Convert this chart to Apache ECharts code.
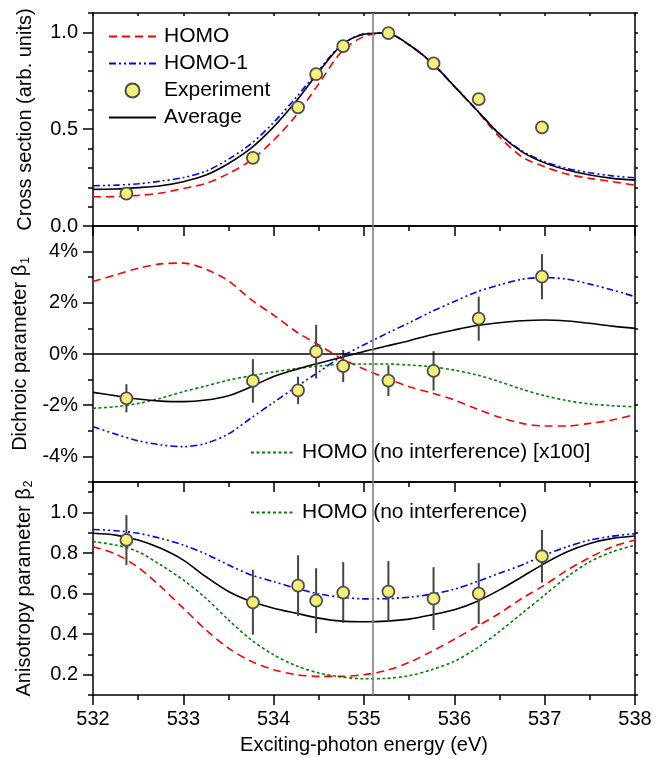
<!DOCTYPE html>
<html>
<head>
<meta charset="utf-8">
<script src="https://cdn.jsdelivr.net/npm/echarts@6/dist/echarts.min.js"></script>
<style>html,body{margin:0;padding:0;background:#fff}#chart{width:666px;height:758px}</style>
</head>
<body>
<div id="chart"></div>
<script>
// ---------- data ----------
const energy = [532,532.25,532.5,532.75,533,533.25,533.5,533.75,534,534.25,534.5,534.75,535,535.25,535.5,535.75,536,536.25,536.5,536.75,537,537.25,537.5,537.75,538];

// Cross section (arb. units)
const csHomo  = [0.151,0.152,0.158,0.170,0.194,0.220,0.271,0.340,0.443,0.572,0.735,0.899,0.979,0.995,0.934,0.842,0.720,0.595,0.460,0.357,0.306,0.268,0.246,0.229,0.211];
const csHomo1 = [0.208,0.211,0.218,0.232,0.250,0.283,0.345,0.425,0.535,0.665,0.805,0.935,0.992,0.997,0.936,0.844,0.722,0.598,0.476,0.388,0.332,0.297,0.275,0.259,0.249];
const csAvg   = [0.189,0.191,0.198,0.208,0.229,0.263,0.323,0.402,0.512,0.645,0.796,0.933,0.990,0.997,0.936,0.844,0.722,0.598,0.474,0.383,0.326,0.289,0.263,0.246,0.237];

// Dichroic parameter beta1 (%)
const b1Homo  = [2.83,3.09,3.35,3.52,3.55,3.31,2.86,2.12,1.52,0.87,0.35,-0.17,-0.59,-0.95,-1.28,-1.52,-1.80,-2.15,-2.47,-2.71,-2.81,-2.81,-2.71,-2.58,-2.36];
const b1Homo1 = [-2.84,-3.13,-3.39,-3.55,-3.62,-3.49,-3.12,-2.50,-1.89,-1.28,-0.70,-0.10,0.36,0.80,1.22,1.66,2.05,2.43,2.70,2.92,2.99,2.92,2.73,2.50,2.24];
const b1Avg   = [-1.50,-1.63,-1.76,-1.84,-1.86,-1.80,-1.63,-1.28,-0.88,-0.60,-0.36,-0.13,0.10,0.31,0.52,0.75,0.94,1.11,1.22,1.30,1.33,1.29,1.20,1.09,1.00];
const b1NoInt = [-2.12,-2.06,-1.93,-1.73,-1.47,-1.25,-1.02,-0.85,-0.70,-0.57,-0.47,-0.40,-0.39,-0.39,-0.43,-0.50,-0.63,-0.82,-1.08,-1.38,-1.63,-1.82,-1.95,-2.02,-2.06];

// Anisotropy parameter beta2
const b2Homo  = [0.831,0.795,0.729,0.634,0.528,0.421,0.331,0.266,0.225,0.200,0.192,0.192,0.200,0.221,0.261,0.315,0.375,0.438,0.503,0.577,0.642,0.716,0.778,0.831,0.864];
const b2Homo1 = [0.916,0.910,0.897,0.872,0.839,0.795,0.741,0.692,0.659,0.626,0.598,0.582,0.574,0.575,0.582,0.597,0.621,0.659,0.700,0.741,0.790,0.831,0.864,0.883,0.895];
const b2Avg   = [0.897,0.888,0.864,0.823,0.765,0.683,0.610,0.561,0.528,0.503,0.479,0.464,0.461,0.464,0.474,0.495,0.520,0.561,0.618,0.683,0.749,0.806,0.847,0.872,0.884];
const b2NoInt = [0.856,0.839,0.806,0.741,0.667,0.577,0.470,0.372,0.298,0.244,0.208,0.189,0.180,0.182,0.195,0.225,0.266,0.331,0.413,0.503,0.593,0.683,0.757,0.806,0.839];

// Experiment
const expEnergy = [532.37,533.77,534.27,534.47,534.77,535.27,535.77,536.27,536.97];
const expCs     = [0.167,0.352,0.613,0.784,0.929,0.996,0.840,0.655,0.509];
const expB1     = [-1.73,-1.05,-1.42,0.09,-0.47,-1.04,-0.66,1.38,3.02];
const expB1Err  = [0.55,0.85,0.53,1.05,0.63,0.60,0.77,0.86,0.88];
const expB2     = [0.864,0.557,0.639,0.565,0.605,0.610,0.575,0.600,0.784];
const expB2Err  = [0.123,0.160,0.150,0.160,0.150,0.150,0.155,0.150,0.130];

const markEnergy = 535.1;

// ticks
const xTicksMajor = [532,533,534,535,536,537,538];
const xTicksMinor = [532.5,533.5,534.5,535.5,536.5,537.5];
const yTopMajor = [0,0.5,1.0];
const yTopMinor = [0.1,0.2,0.3,0.4,0.5,0.6,0.7,0.8,0.9,1.0,1.1];
const yMidMajor = [-4,-2,0,2,4];
const yMidMinor = [-5,-4,-3,-2,-1,0,1,2,3,4,5];
const yBotMajor = [0.2,0.4,0.6,0.8,1.0];
const yBotMinor = [0.1,0.2,0.3,0.4,0.5,0.6,0.7,0.8,0.9,1.0,1.1];

// ---------- chart ----------
const FONT = '"Liberation Sans", Arial, Helvetica, sans-serif';
const FS = 20;
const AX = {color:'#000', width:1.5};

const gridDefs = [
  {left:93, right:31, top:13, height:213},
  {left:93, right:31, top:226, height:256},
  {left:93, right:31, top:482, height:213}
];
const yRanges = [[0,1.1],[-5,5],[0.1,1.15]];
const yMajors = [yTopMajor, yMidMajor, yBotMajor];
const yMinors = [yTopMinor, yMidMinor, yBotMinor];
const yFormat = [v=>v.toFixed(1), v=>v+'%', v=>v.toFixed(1)];
const yNames = [
  'Cross section (arb. units)',
  '{a|Dichroic parameter β}{s|1}',
  '{a|Anisotropy parameter β}{s|2}'
];

const xAxes = [], yAxes = [];
gridDefs.forEach((g, gi) => {
  const last = gi === 2;
  xAxes.push({
    type:'value', gridIndex:gi, min:532, max:538, position:'bottom',
    axisLine:{show:true, onZero:false, lineStyle:AX},
    axisTick:{show:true, inside:false, length:10, customValues:xTicksMajor, lineStyle:AX},
    axisLabel:{show:last, customValues:xTicksMajor, margin:14, fontSize:FS, color:'#000', fontFamily:FONT, formatter:v=>String(v)},
    splitLine:{show:false},
    name: last ? 'Exciting-photon energy (eV)' : '',
    nameLocation:'middle', nameGap:40,
    nameTextStyle:{fontSize:FS, color:'#000', fontFamily:FONT}
  });
  xAxes.push({
    type:'value', gridIndex:gi, min:532, max:538, position:'bottom',
    axisLine:{show:false, onZero:false},
    axisTick:{show:true, inside:false, length:5, customValues:xTicksMinor, lineStyle:AX},
    axisLabel:{show:false}, splitLine:{show:false}
  });
  xAxes.push({
    type:'value', gridIndex:gi, min:532, max:538, position:'top',
    axisLine:{show:true, onZero:false, lineStyle:AX},
    axisTick:{show:gi===0, inside:true, length:3, customValues:xTicksMajor.concat(xTicksMinor), lineStyle:AX},
    axisLabel:{show:false}, splitLine:{show:false}
  });
  yAxes.push({
    type:'value', gridIndex:gi, min:yRanges[gi][0], max:yRanges[gi][1], position:'left',
    axisLine:{show:true, onZero:false, lineStyle:AX},
    axisTick:{show:true, inside:false, length:10, customValues:yMajors[gi], lineStyle:AX},
    axisLabel:{show:true, customValues:yMajors[gi], margin:15, fontSize:FS, color:'#000', fontFamily:FONT, formatter:yFormat[gi]},
    splitLine:{show:false},
    name:yNames[gi], nameLocation:'middle', nameGap:58, nameRotate:90,
    nameTextStyle:{fontSize:FS, color:'#000', fontFamily:FONT,
      rich:{a:{fontSize:FS, color:'#000', fontFamily:FONT},
            s:{fontSize:12, color:'#000', fontFamily:FONT, verticalAlign:'bottom', padding:[10,0,0,1]}}}
  });
  yAxes.push({
    type:'value', gridIndex:gi, min:yRanges[gi][0], max:yRanges[gi][1], position:'left',
    axisLine:{show:false, onZero:false},
    axisTick:{show:true, inside:false, length:5, customValues:yMinors[gi], lineStyle:AX},
    axisLabel:{show:false}, splitLine:{show:false}
  });
  yAxes.push({
    type:'value', gridIndex:gi, min:yRanges[gi][0], max:yRanges[gi][1], position:'right',
    axisLine:{show:true, onZero:false, lineStyle:AX},
    axisTick:{show:true, inside:false, length:3, customValues:yMinors[gi], lineStyle:AX},
    axisLabel:{show:false}, splitLine:{show:false}
  });
});

const pairs = (xs, ys) => xs.map((x,i)=>[x, ys[i]]);
const STY = {
  homo:  {color:'#ff0000', width:1.6, type:[8,5]},
  homo1: {color:'#0000ff', width:1.6, type:[7,3,2,3,2,3]},
  avg:   {color:'#000000', width:1.6, type:'solid'},
  noint: {color:'#008000', width:1.6, type:[3,2.5]}
};
function line(name, gi, ys, sty, z, extra) {
  return Object.assign({
    type:'line', name, xAxisIndex:gi*3, yAxisIndex:gi*3,
    data:pairs(energy, ys), symbol:'none', showSymbol:false, smooth:0.3,
    lineStyle:sty, itemStyle:{color:sty.color}, z:z||2, silent:true
  }, extra||{});
}
function vline() {
  return {xAxis:markEnergy, lineStyle:{color:'#808080', width:1.6, type:'solid'}};
}
const markBase = {symbol:['none','none'], silent:true, label:{show:false}, animation:false};
function expScatter(gi, ys) {
  return {
    type:'scatter', name:'Experiment', xAxisIndex:gi*3, yAxisIndex:gi*3,
    data:pairs(expEnergy, ys), symbol:'circle', symbolSize:12,
    itemStyle:{color:'#f6ef78', borderColor:'#4d4d4d', borderWidth:1.8, opacity:1},
    z:5, silent:true
  };
}
function errBars(gi, ys, errs) {
  return {
    type:'custom', xAxisIndex:gi*3, yAxisIndex:gi*3, silent:true, z:4,
    data:expEnergy.map((x,i)=>[x, ys[i], errs[i]]),
    encode:{x:0, y:1},
    renderItem:(params, api)=>{
      const x = api.value(0), y = api.value(1), e = api.value(2);
      const p1 = api.coord([x, y-e]), p2 = api.coord([x, y+e]);
      return {type:'line', shape:{x1:p1[0], y1:p1[1], x2:p2[0], y2:p2[1]},
              style:{stroke:'#444', lineWidth:2}};
    }
  };
}

const series = [
  // top panel
  line('HOMO', 0, csHomo, STY.homo, 2),
  line('HOMO-1', 0, csHomo1, STY.homo1, 2),
  line('Average', 0, csAvg, STY.avg, 3, {markLine:Object.assign({}, markBase, {data:[vline()]})}),
  expScatter(0, expCs),
  // middle panel
  line('HOMO', 1, b1Homo, STY.homo, 2),
  line('HOMO-1', 1, b1Homo1, STY.homo1, 2),
  line('HOMO (no interference) [x100]', 1, b1NoInt, STY.noint, 2),
  line('Average', 1, b1Avg, STY.avg, 3, {markLine:Object.assign({}, markBase, {data:[
    vline(), {yAxis:0, lineStyle:{color:'#000', width:1.6, type:'solid'}}
  ]})}),
  errBars(1, expB1, expB1Err),
  expScatter(1, expB1),
  // bottom panel
  line('HOMO', 2, b2Homo, STY.homo, 2),
  line('HOMO-1', 2, b2Homo1, STY.homo1, 2),
  line('HOMO (no interference)', 2, b2NoInt, STY.noint, 2),
  line('Average', 2, b2Avg, STY.avg, 3, {markLine:Object.assign({}, markBase, {data:[vline()]})}),
  errBars(2, expB2, expB2Err),
  expScatter(2, expB2)
];

const legendText = {fontSize:21, color:'#000', fontFamily:FONT, padding:[0,0,0,3]};
const noSym = {opacity:0};
const option = {
  animation:false,
  backgroundColor:'#ffffff',
  textStyle:{fontFamily:FONT},
  grid: gridDefs.map(g=>Object.assign({containLabel:false, outerBoundsMode:'none'}, g)),
  xAxis: xAxes,
  yAxis: yAxes,
  legend: [
    {orient:'vertical', left:108, top:26, itemWidth:47, itemHeight:14, itemGap:6, padding:0,
     selectedMode:false,
     data:[{name:'HOMO', itemStyle:noSym}, {name:'HOMO-1', itemStyle:noSym}, 'Experiment', {name:'Average', itemStyle:noSym}],
     textStyle:legendText},
    {orient:'horizontal', left:250, top:442, itemWidth:43, itemHeight:14, padding:0,
     selectedMode:false, data:[{name:'HOMO (no interference) [x100]', itemStyle:noSym}], textStyle:legendText},
    {orient:'horizontal', left:250, top:502, itemWidth:43, itemHeight:14, padding:0,
     selectedMode:false, data:[{name:'HOMO (no interference)', itemStyle:noSym}], textStyle:legendText}
  ],
  series
};
const chart = echarts.init(document.getElementById('chart'), null, {renderer:'canvas'});
chart.setOption(option);
</script>
</body>
</html>
